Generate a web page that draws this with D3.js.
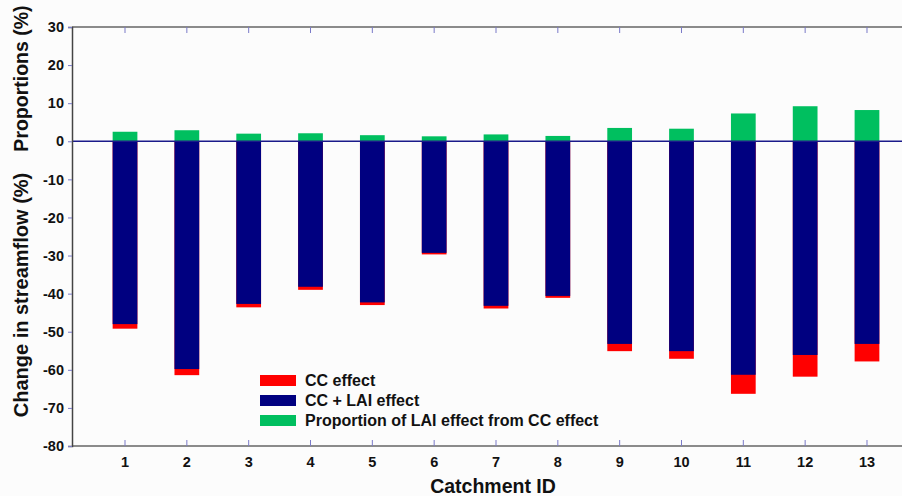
<!DOCTYPE html>
<html>
<head>
<meta charset="utf-8">
<script src="https://cdn.jsdelivr.net/npm/d3@7/dist/d3.min.js"></script>
<style>
  html, body { margin: 0; padding: 0; background: #fcfcfc; }
  svg { display: block; font-family: "Liberation Sans", Arial, sans-serif; font-weight: bold; }
</style>
</head>
<body>
<svg id="chart" width="902" height="496"></svg>
<script>
// Catchment IDs
const catchments = [1, 2, 3, 4, 5, 6, 7, 8, 9, 10, 11, 12, 13];
// Change in streamflow (%) due to CC effect
const ccEffect = [-49.2, -61.4, -43.6, -39.0, -43.0, -29.7, -43.9, -41.1, -55.1, -57.1, -66.3, -61.8, -57.8];
// Change in streamflow (%) due to CC + LAI effect
const ccLaiEffect = [-48.0, -59.8, -42.7, -38.2, -42.3, -29.3, -43.2, -40.6, -53.2, -55.1, -61.3, -56.1, -53.2];
// Proportion (%) of LAI effect from CC effect
const laiProportion = [2.5, 2.9, 2.0, 2.1, 1.6, 1.3, 1.8, 1.4, 3.5, 3.3, 7.3, 9.2, 8.2];
// Y tick values
const yTicks = [30, 20, 10, 0, -10, -20, -30, -40, -50, -60, -70, -80];

const legendItems = [
  { label: "CC effect", color: "#ff0000" },
  { label: "CC + LAI effect", color: "#000080" },
  { label: "Proportion of LAI effect from CC effect", color: "#00bf5f" }
];

const svg = d3.select("#chart");
const plotLeft = 72, plotRight = 902, plotTop = 27, plotBottom = 446;
const font = "'Liberation Sans', Arial, sans-serif";

const x = d3.scaleBand()
  .domain(catchments)
  .range([94.1, 897.9])
  .paddingInner(0.6)
  .paddingOuter(0.3);

const y = d3.scaleLinear().domain([-80, 30]).range([plotBottom, plotTop]);

// Bars: CC effect underneath, CC + LAI effect over it, proportion above zero
const g = svg.append("g");

g.selectAll("rect.cc").data(catchments).join("rect")
  .attr("class", "cc")
  .attr("x", d => x(d))
  .attr("width", x.bandwidth())
  .attr("y", y(0))
  .attr("height", (d, i) => y(ccEffect[i]) - y(0))
  .attr("fill", "#ff0000");

g.selectAll("rect.cclai").data(catchments).join("rect")
  .attr("class", "cclai")
  .attr("x", d => x(d))
  .attr("width", x.bandwidth())
  .attr("y", y(0))
  .attr("height", (d, i) => y(ccLaiEffect[i]) - y(0))
  .attr("fill", "#000080");

g.selectAll("rect.prop").data(catchments).join("rect")
  .attr("class", "prop")
  .attr("x", d => x(d))
  .attr("width", x.bandwidth())
  .attr("y", (d, i) => y(laiProportion[i]))
  .attr("height", (d, i) => y(0) - y(laiProportion[i]))
  .attr("fill", "#00bf5f");

// Zero line
svg.append("line")
  .attr("x1", plotLeft).attr("x2", plotRight)
  .attr("y1", y(0)).attr("y2", y(0))
  .attr("stroke", "#1a1a8a").attr("stroke-width", 1.3);

// Top and bottom frame lines
[plotTop, plotBottom].forEach(yy => {
  svg.append("line")
    .attr("x1", plotLeft).attr("x2", plotRight)
    .attr("y1", yy).attr("y2", yy)
    .attr("stroke", "#666").attr("stroke-width", 1.5);
});

// Category ticks pointing inward from top and bottom
const tickColor = "#7a7ac8";
const centers = catchments.map(d => x(d) + x.bandwidth() / 2);
svg.append("g").selectAll("line").data(centers).join("line")
  .attr("x1", d => d).attr("x2", d => d)
  .attr("y1", plotTop).attr("y2", plotTop + 6)
  .attr("stroke", tickColor).attr("stroke-width", 1);
svg.append("g").selectAll("line").data(centers).join("line")
  .attr("x1", d => d).attr("x2", d => d)
  .attr("y1", plotBottom).attr("y2", plotBottom - 6)
  .attr("stroke", tickColor).attr("stroke-width", 1);

// Left axis (plain hyphen for negatives)
const yAxis = d3.axisLeft(y).tickValues(yTicks).tickSize(4).tickPadding(4)
  .tickFormat(d => String(d));
const ya = svg.append("g").attr("transform", `translate(${plotLeft},0)`).call(yAxis);
ya.select(".domain").attr("stroke", "#444").attr("stroke-width", 1.5);
ya.selectAll(".tick line").attr("stroke", tickColor);
ya.selectAll(".tick text")
  .attr("fill", "#111")
  .style("font-size", "14.5px")
  .style("font-weight", "bold")
  .style("font-family", font);

// Bottom labels
const xAxis = d3.axisBottom(x).tickSize(0).tickPadding(11);
const xa = svg.append("g").attr("transform", `translate(0,${plotBottom})`).call(xAxis);
xa.select(".domain").remove();
xa.selectAll(".tick text")
  .attr("fill", "#111")
  .style("font-size", "14.5px")
  .style("font-weight", "bold")
  .style("font-family", font);

// Axis titles
svg.append("text")
  .attr("x", 493).attr("y", 493)
  .attr("text-anchor", "middle")
  .attr("fill", "#111")
  .style("font-size", "19.5px")
  .text("Catchment ID");

svg.append("text")
  .attr("transform", "translate(28,78.5) rotate(-90)")
  .attr("text-anchor", "middle")
  .attr("fill", "#111")
  .style("font-size", "19.5px")
  .text("Proportions (%)");

svg.append("text")
  .attr("transform", "translate(28,295) rotate(-90)")
  .attr("text-anchor", "middle")
  .attr("fill", "#111")
  .style("font-size", "20px")
  .text("Change in streamflow (%)");

// Legend
const lg = svg.append("g").attr("transform", "translate(260,375)");
legendItems.forEach((item, i) => {
  lg.append("rect")
    .attr("x", 0).attr("y", i * 20)
    .attr("width", 36).attr("height", 11)
    .attr("fill", item.color);
  lg.append("text")
    .attr("x", 45).attr("y", i * 20 + 11)
    .attr("fill", "#111")
    .style("font-size", "16px")
    .text(item.label);
});
</script>
</body>
</html>
